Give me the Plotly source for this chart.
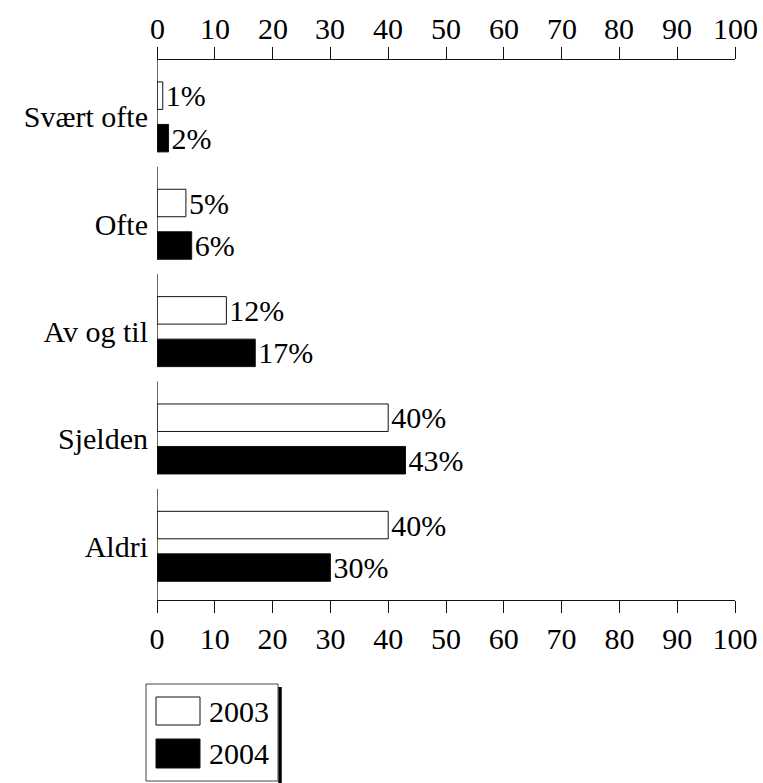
import plotly.graph_objects as go

# Survey answers, share of respondents (%)
categories = ["Svært ofte", "Ofte", "Av og til", "Sjelden", "Aldri"]
series_names = ["2003", "2004"]
values_2003 = [1, 5, 12, 40, 40]
values_2004 = [2, 6, 17, 43, 30]
x_ticks = [0, 10, 20, 30, 40, 50, 60, 70, 80, 90, 100]

W, H = 763, 783
L, R, T, B = 157, 28, 60, 183
FONT = "Liberation Serif"
FS = 30
INK = "#111111"


def paper_x(p):
    return (p - L) / (W - L - R)


def paper_y(p):
    return (H - B - p) / (H - T - B)


fig = go.Figure()
fig.update_layout(width=W, height=H, template="none")

bar_styles = [
    dict(fill="white", offset=-0.326),
    dict(fill="black", offset=0.070),
]
for name, vals, st in zip(series_names, [values_2003, values_2004], bar_styles):
    fig.add_trace(go.Bar(
        name=name,
        y=categories,
        x=vals,
        orientation="h",
        width=0.256,
        offset=st["offset"],
        marker=dict(color=st["fill"], line=dict(color=INK, width=1)),
        text=[f"{v}%" for v in vals],
        textposition="outside",
        constraintext="none",
        cliponaxis=False,
        textfont=dict(family=FONT, size=FS, color="black"),
        showlegend=False,
    ))

fig.update_layout(
    margin=dict(l=L, r=R, t=T, b=B, pad=0, autoexpand=False),
    barmode="overlay",
    # bottom axis with labels; ticks and line mirrored to the top edge
    xaxis=dict(
        range=[0, 100], tickvals=x_ticks, side="bottom", ticks="outside", ticklen=12,
        tickwidth=1.3, tickcolor=INK, showline=True, linecolor=INK, linewidth=1.3,
        mirror="allticks", showgrid=False, zeroline=False, automargin=False,
        tickfont=dict(family=FONT, size=FS, color="black"),
    ),
    yaxis=dict(
        type="category", categoryorder="array", categoryarray=categories,
        range=[4.5, -0.53], showline=False, ticks="", showgrid=False,
        zeroline=False, ticklabelstandoff=8, automargin=False,
        tickfont=dict(family=FONT, size=FS, color="black"),
    ),
)

# tick labels above the top edge
for t in x_ticks:
    fig.add_annotation(xref="x", yref="paper", x=t, y=1, yanchor="bottom", yshift=13,
                       text=str(t), showarrow=False,
                       font=dict(family=FONT, size=FS, color="black"))

# left axis drawn as one short segment per answer group
for i in range(len(categories)):
    y1 = i + 0.326 if i < len(categories) - 1 else 4.5
    fig.add_shape(type="line", xref="x", yref="y", x0=0, x1=0,
                  y0=i - 0.535, y1=y1, line=dict(color=INK, width=1.3))

# legend box with shadow
fig.add_shape(type="line", xref="paper", yref="paper",
              x0=paper_x(280), x1=paper_x(280), y0=paper_y(687), y1=paper_y(783),
              line=dict(color="black", width=3.5))
fig.add_shape(type="rect", xref="paper", yref="paper",
              x0=paper_x(146), x1=paper_x(278), y0=paper_y(781), y1=paper_y(684),
              line=dict(color="#444444", width=1), fillcolor="white")
swatch_fill = ["white", "black"]
swatch_rows = [(697, 725), (739, 768)]
for name, fill, (ya, yb) in zip(series_names, swatch_fill, swatch_rows):
    fig.add_shape(type="rect", xref="paper", yref="paper",
                  x0=paper_x(156), x1=paper_x(200), y0=paper_y(yb), y1=paper_y(ya),
                  line=dict(color=INK, width=1), fillcolor=fill)
    fig.add_annotation(xref="paper", yref="paper", x=paper_x(207),
                       y=paper_y((ya + yb) / 2), text=name, showarrow=False,
                       xanchor="left", yanchor="middle",
                       font=dict(family=FONT, size=FS, color="black"))

fig.write_html("out.html")
